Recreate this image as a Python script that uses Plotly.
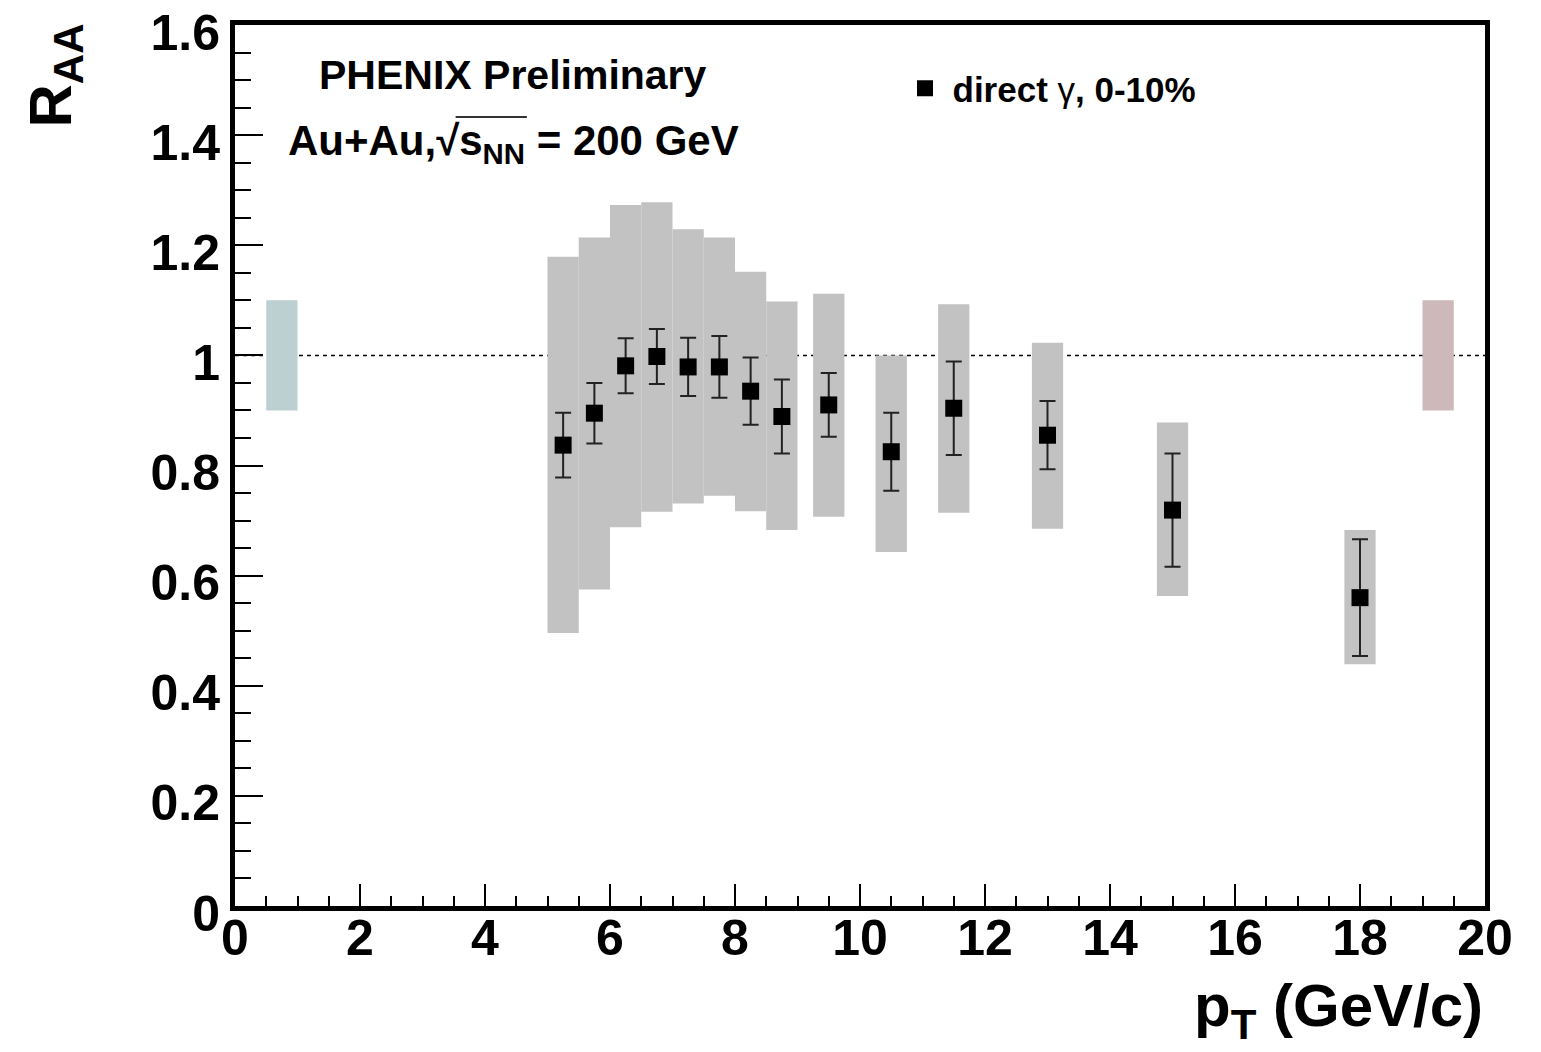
import plotly.graph_objects as go

# Direct photon nuclear modification factor, Au+Au 0-10% central
pt = [5.25, 5.75, 6.25, 6.75, 7.25, 7.75, 8.25, 8.75, 9.5, 10.5, 11.5, 13.0, 15.0, 18.0]
raa = [0.837, 0.895, 0.981, 0.998, 0.979, 0.979, 0.935, 0.889, 0.910, 0.825, 0.904, 0.855, 0.719, 0.560]
stat_err = [0.059, 0.055, 0.050, 0.050, 0.053, 0.056, 0.061, 0.067, 0.058, 0.071, 0.085, 0.062, 0.103, 0.106]
sys_low = [0.496, 0.575, 0.688, 0.716, 0.731, 0.745, 0.717, 0.683, 0.707, 0.643, 0.714, 0.685, 0.563, 0.439]
sys_high = [1.179, 1.214, 1.273, 1.278, 1.229, 1.214, 1.152, 1.098, 1.112, 1.000, 1.093, 1.023, 0.878, 0.683]
sys_width = 0.5

# Global normalisation uncertainties drawn at R_AA = 1
norm_x = [0.75, 19.25]
norm_low = [0.9, 0.9]
norm_high = [1.1, 1.1]
norm_colors = ["#bccfd1", "#cdb9b9"]

x_ticks = [0, 2, 4, 6, 8, 10, 12, 14, 16, 18, 20]
x_labels = ["0", "2", "4", "6", "8", "10", "12", "14", "16", "18", "20"]
y_ticks = [0, 0.2, 0.4, 0.6, 0.8, 1.0, 1.2, 1.4, 1.6]
y_labels = ["0", "0.2", "0.4", "0.6", "0.8", "1", "1.2", "1.4", "1.6"]

FONT = "Liberation Sans, Arial, Helvetica, sans-serif"

fig = go.Figure()

# systematic uncertainty boxes
fig.add_trace(go.Bar(
    x=pt,
    base=sys_low,
    y=[h - l for h, l in zip(sys_high, sys_low)],
    width=[sys_width] * len(pt),
    marker=dict(color="#c2c2c2", line=dict(width=0)),
    showlegend=False,
    hoverinfo="skip",
))

# normalisation boxes
fig.add_trace(go.Bar(
    x=norm_x,
    base=norm_low,
    y=[h - l for h, l in zip(norm_high, norm_low)],
    width=[sys_width] * len(norm_x),
    marker=dict(color=norm_colors, line=dict(width=0)),
    showlegend=False,
    hoverinfo="skip",
))

# data points with statistical errors
fig.add_trace(go.Scatter(
    x=pt,
    y=raa,
    mode="markers",
    marker=dict(symbol="square", size=17, color="black", line=dict(width=0)),
    error_y=dict(type="data", array=stat_err, symmetric=True,
                 color="#222222", thickness=2, width=8),
    name="<b>direct </b>γ<b>, 0-10%</b>",
    showlegend=True,
))

# reference line at R_AA = 1
fig.add_shape(type="line", xref="paper", x0=0, x1=1, yref="y", y0=1, y1=1,
              line=dict(color="black", width=1.5, dash="4px,4px"), layer="below")

# vinculum of the square root over s_NN
fig.add_shape(type="line", xref="paper", yref="paper",
              x0=0.1765, x1=0.2335, y0=0.8955, y1=0.8955,
              line=dict(color="#333333", width=2))

axis_common = dict(
    showgrid=False,
    zeroline=False,
    showline=True,
    linecolor="black",
    linewidth=5,
    mirror=True,
    ticks="inside",
    tickcolor="black",
    tickwidth=2,
    automargin=False,
    ticklabeloverflow="allow",
    tickfont=dict(family=FONT, size=50, color="black", weight="bold"),
)

fig.update_xaxes(
    range=[0, 20],
    tickmode="array", tickvals=x_ticks, ticktext=x_labels,
    ticklen=22,
    ticklabelstandoff=-16,
    minor=dict(dtick=0.5, ticks="inside", ticklen=10, tickwidth=2, tickcolor="black"),
    **axis_common,
)
fig.update_yaxes(
    range=[0, 1.6],
    tickmode="array", tickvals=y_ticks, ticktext=y_labels,
    ticklen=28,
    ticklabelshift=7,
    minor=dict(dtick=0.05, ticks="inside", ticklen=16, tickwidth=2, tickcolor="black"),
    **axis_common,
)

annotations = [
    dict(text="<b>PHENIX Preliminary</b>", x=0.2224, y=0.943,
         font=dict(size=41)),
    dict(text="<b>Au+Au,√s<sub>NN</sub> = 200 GeV</b>",
         x=0.2224, y=0.865, font=dict(size=42)),
    dict(text="<b>R<sub>AA</sub></b>", x=-0.144, y=1.004, yanchor="top",
         textangle=-90, font=dict(size=60)),
    dict(text="<b>p<sub>T</sub> (GeV/c)</b>", x=1.0, xanchor="right",
         y=-0.118, font=dict(size=60)),
]
for a in annotations:
    a.setdefault("xref", "paper")
    a.setdefault("yref", "paper")
    a.setdefault("xanchor", "center")
    a.setdefault("yanchor", "middle")
    a.setdefault("showarrow", False)
    a["font"] = dict(family=FONT, color="black", **a["font"])
    fig.add_annotation(**a)

fig.update_layout(
    width=1541,
    height=1052,
    margin=dict(l=235, r=56, t=25, b=146, autoexpand=False),
    paper_bgcolor="white",
    plot_bgcolor="white",
    barmode="overlay",
    showlegend=True,
    legend=dict(
        x=0.53, y=0.928, xanchor="left", yanchor="middle",
        bgcolor="rgba(0,0,0,0)",
        font=dict(family=FONT, size=35, color="black"),
        itemsizing="trace",
        itemwidth=45,
    ),
)

fig.write_html("out.html")
